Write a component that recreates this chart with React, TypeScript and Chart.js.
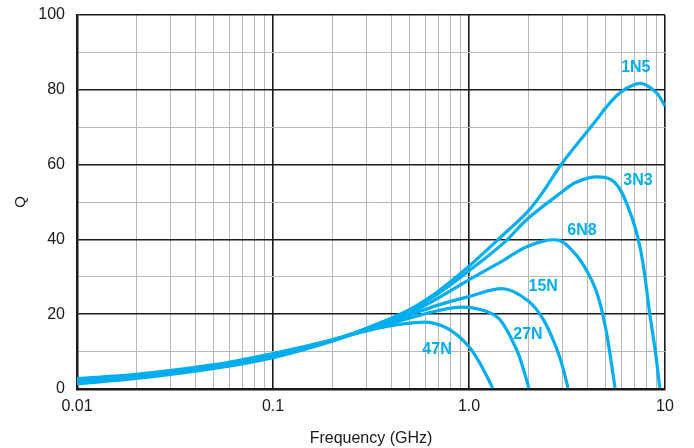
import React, { useEffect, useRef } from "react";
import { Chart, registerables } from "chart.js";

Chart.register(...registerables);

// ---- data ----
const freq1N5 = [0.01, 0.02, 0.05, 0.1, 0.2, 0.3, 0.5, 0.7, 1.0, 1.5, 2.0, 2.4, 3.0, 4.5, 5.0, 6.0, 7.5, 9.0, 10];
const q1N5 = [1.4, 2.8, 5.5, 8.4, 12.8, 16.2, 21.3, 26.2, 32.8, 41.3, 47.5, 52.9, 60.5, 72.1, 75.3, 79.5, 81.7, 79.3, 75.7];

const freq3N3 = [0.01, 0.02, 0.05, 0.1, 0.2, 0.3, 0.5, 0.7, 1.0, 1.5, 2.0, 3.0, 3.5, 4.4, 5.5, 6.5, 7.5, 8.4, 9.0, 9.4];
const q3N3 = [1.6, 3.0, 5.7, 8.6, 12.9, 16.2, 21.0, 25.6, 31.6, 39.0, 45.6, 52.8, 55.2, 56.7, 55.4, 48.5, 37.3, 19.4, 8.7, 0.3];

const freq6N8 = [0.01, 0.02, 0.05, 0.1, 0.2, 0.3, 0.5, 0.7, 1.0, 1.5, 2.0, 2.85, 3.5, 4.0, 4.5, 5.0, 5.56];
const q6N8 = [1.9, 3.2, 5.9, 8.9, 13.0, 16.1, 20.4, 24.4, 29.2, 34.4, 38.2, 39.8, 36.0, 31.5, 25.6, 15.8, 0.3];

const freq15N = [0.01, 0.02, 0.05, 0.1, 0.2, 0.3, 0.5, 0.7, 1.0, 1.5, 2.0, 2.4, 2.8, 3.0, 3.2];
const q15N = [2.2, 3.5, 6.1, 9.1, 13.1, 16.0, 19.8, 22.5, 24.7, 26.8, 23.6, 18.5, 10.8, 6.0, 0.3];

const freq27N = [0.01, 0.02, 0.05, 0.1, 0.2, 0.3, 0.5, 0.7, 0.92, 1.2, 1.44, 1.75, 1.9, 2.02];
const q27N = [2.5, 3.7, 6.3, 9.3, 13.1, 15.8, 19.0, 21.0, 21.9, 20.9, 18.5, 10.5, 5.1, 0.3];

const freq47N = [0.01, 0.02, 0.05, 0.1, 0.2, 0.3, 0.4, 0.5, 0.63, 0.8, 1.0, 1.15, 1.32];
const q47N = [2.8, 3.9, 6.5, 9.5, 13.1, 15.5, 16.9, 17.6, 17.8, 15.8, 11.3, 6.4, 0.3];

const seriesNames = ["1N5", "3N3", "6N8", "15N", "27N", "47N"];
const seriesFreqs = [freq1N5, freq3N3, freq6N8, freq15N, freq27N, freq47N];
const seriesQs = [q1N5, q3N3, q6N8, q15N, q27N, q47N];

// label anchors (frequency, Q) for the series names
const labelFreqs = [7.1, 7.28, 3.77, 2.39, 2.0, 0.687];
const labelQs = [86, 55.8, 42.4, 27.3, 14.5, 10.5];

// x-axis ticks (grid) and labelled decades
const xTickValues = [
  0.01, 0.02, 0.03, 0.04, 0.05, 0.06, 0.07, 0.08, 0.09,
  0.1, 0.2, 0.3, 0.4, 0.5, 0.6, 0.7, 0.8, 0.9,
  1, 2, 3, 4, 5, 6, 7, 8, 9, 10,
];
const xDecades = [0.01, 0.1, 1, 10];
const xDecadeLabels = ["0.01", "0.1", "1.0", "10"];

const CURVE = "#00aeef";
const MAJOR = "#1a1a1a";
const MINOR = "#b8b8b8";
const FONT = "'Liberation Sans', Arial, Helvetica, sans-serif";

const isDecade = (v: number) => xDecades.some((d) => Math.abs(v - d) / d < 1e-6);

const labelPlugin = {
  id: "curveLabels",
  afterDatasetsDraw(chart: any) {
    const { ctx, scales } = chart;
    ctx.save();
    ctx.fillStyle = CURVE;
    ctx.font = `bold 16px ${FONT}`;
    ctx.textAlign = "center";
    ctx.textBaseline = "middle";
    seriesNames.forEach((name, i) => {
      const x = scales.x.getPixelForValue(labelFreqs[i]);
      const y = scales.y.getPixelForValue(labelQs[i]);
      ctx.fillText(name, x, y);
    });
    ctx.restore();
  },
};

export default function App() {
  const ref = useRef<HTMLCanvasElement | null>(null);

  useEffect(() => {
    document.body.style.margin = "0";
    const canvas = ref.current;
    if (!canvas) return;
    const chart = new Chart(canvas, {
      type: "line",
      data: {
        datasets: seriesNames.map((name, i) => ({
          label: name,
          data: seriesFreqs[i].map((f, j) => ({ x: f, y: seriesQs[i][j] })),
          borderColor: CURVE,
          borderWidth: 3.2,
          pointRadius: 0,
          fill: false,
          tension: 0.35,
        })),
      },
      options: {
        animation: false,
        responsive: false,
        devicePixelRatio: 1,
        layout: { padding: { top: 15, right: 29, left: 0, bottom: 0 } },
        plugins: { legend: { display: false }, tooltip: { enabled: false } },
        scales: {
          x: {
            type: "logarithmic",
            min: 0.01,
            max: 10,
            afterBuildTicks: (scale: any) => {
              scale.ticks = xTickValues.map((v) => ({ value: v }));
            },
            afterFit: (scale: any) => {
              scale.height = 59;
              scale.paddingLeft = 0;
              scale.paddingRight = 0;
            },
            ticks: {
              autoSkip: false,
              maxRotation: 0,
              minRotation: 0,
              padding: 8,
              color: "#1a1a1a",
              font: { family: FONT, size: 16 },
              callback: (value: any) => {
                const v = Number(value);
                const idx = xDecades.findIndex((d) => Math.abs(v - d) / d < 1e-6);
                return idx >= 0 ? xDecadeLabels[idx] : "";
              },
            },
            grid: {
              drawTicks: false,
              color: (c: any) => (isDecade(c.tick?.value) ? MAJOR : MINOR),
              lineWidth: (c: any) => (isDecade(c.tick?.value) ? 1.6 : 1),
            },
            border: { color: MAJOR, width: 2.5 },
            title: {
              display: true,
              text: "Frequency (GHz)",
              color: "#1a1a1a",
              font: { family: FONT, size: 16 },
              padding: { top: 7, bottom: 0 },
            },
          },
          y: {
            type: "linear",
            min: 0,
            max: 100,
            afterFit: (scale: any) => {
              scale.width = 77;
              scale.paddingTop = 0;
              scale.paddingBottom = 0;
            },
            ticks: {
              stepSize: 10,
              autoSkip: false,
              padding: 12,
              color: "#1a1a1a",
              font: { family: FONT, size: 16 },
              callback: (value: any) => (Number(value) % 20 === 0 ? String(value) : ""),
            },
            grid: {
              drawTicks: false,
              color: (c: any) => (c.tick?.value % 20 === 0 ? MAJOR : MINOR),
              lineWidth: (c: any) => (c.tick?.value % 20 === 0 ? 1.6 : 1),
            },
            border: { color: MAJOR, width: 2.5 },
            title: {
              display: true,
              text: "Q",
              color: "#1a1a1a",
              font: { family: FONT, size: 15 },
              padding: { top: 12, bottom: 0 },
            },
          },
        },
      },
      plugins: [labelPlugin],
    });
    return () => chart.destroy();
  }, []);

  return (
    <div style={{ width: 694, height: 448 }}>
      <canvas ref={ref} width={694} height={448} style={{ display: "block" }} />
    </div>
  );
}
